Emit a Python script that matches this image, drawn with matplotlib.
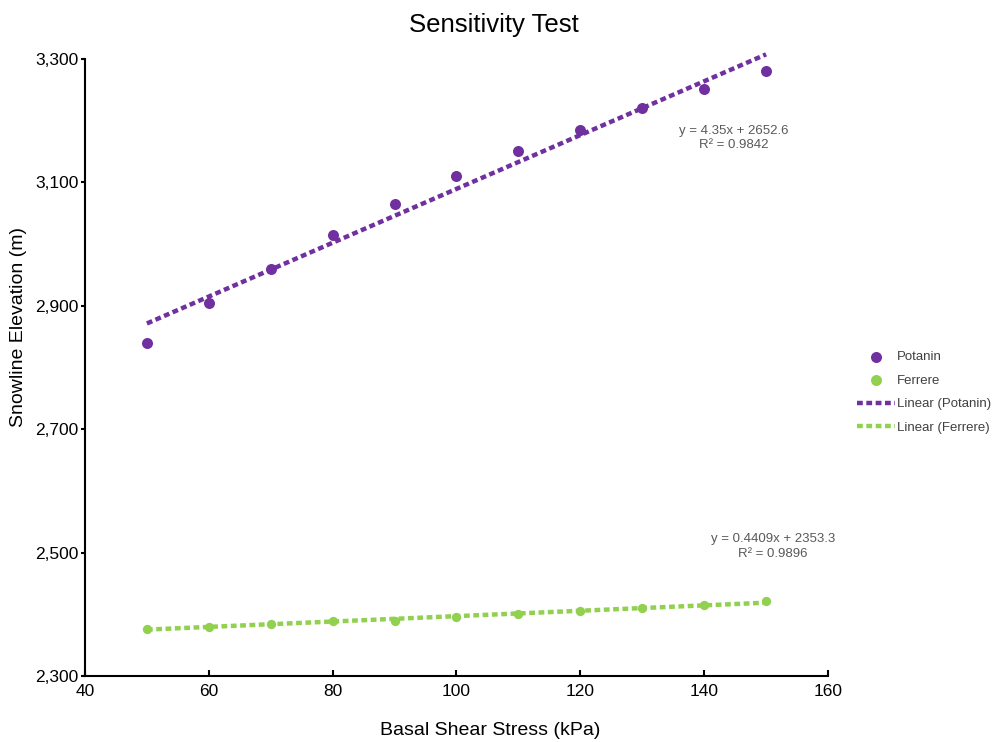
import numpy as np
import matplotlib.pyplot as plt

plt.rcParams['font.family'] = ['Liberation Sans', 'DejaVu Sans']

shear = [50, 60, 70, 80, 90, 100, 110, 120, 130, 140, 150]
potanin = [2840, 2905, 2960, 3015, 3065, 3111, 3151, 3185, 3221, 3251, 3281]
ferrere = [2376, 2380, 2385, 2390, 2390, 2396, 2400, 2405, 2410, 2415, 2421]
eq_potanin = "y = 4.35x + 2652.6\nR² = 0.9842"
eq_ferrere = "y = 0.4409x + 2353.3\nR² = 0.9896"

purple = '#7030A0'
green = '#92D050'

fig = plt.figure(figsize=(9.94, 7.42), dpi=100)
ax = fig.add_axes([0.0855, 0.0889, 0.7475, 0.8315])

x = np.array(shear)
ax.scatter(x, potanin, s=63, color=purple, zorder=3, label='Potanin', linewidths=0)
ax.scatter(x, ferrere, s=45, color=green, zorder=3, label='Ferrere', linewidths=0)

xs = np.array([50, 150])
for vals, col, name in [(potanin, purple, 'Linear (Potanin)'), (ferrere, green, 'Linear (Ferrere)')]:
    m, b = np.polyfit(x, vals, 1)
    ax.plot(xs, m * xs + b, color=col, lw=3.2, linestyle=(0, (1.3, 0.8)),
            dash_capstyle='butt', zorder=2, label=name, clip_on=False)

ax.text(144.7, 3172, eq_potanin, ha='center', va='center', fontsize=9.5,
        color='#595959', linespacing=1.3)
ax.text(151.1, 2510, eq_ferrere, ha='center', va='center', fontsize=9.5,
        color='#595959', linespacing=1.3)

ax.set_xlim(40, 160)
ax.set_ylim(2300, 3300)
ax.set_xticks(range(40, 161, 20))
ax.set_yticks(range(2300, 3301, 200))
ax.yaxis.set_major_formatter(plt.FuncFormatter(lambda v, p: f'{int(v):,}'))

for s in ['top', 'right']:
    ax.spines[s].set_visible(False)
for s in ['left', 'bottom']:
    ax.spines[s].set_linewidth(1.5)
ax.tick_params(axis='x', direction='in', length=4, width=1.5, labelsize=12.5, pad=6)
ax.tick_params(axis='y', direction='out', length=3, width=1.5, labelsize=12.5, pad=1.5)

fig.text(0.497, 0.966, 'Sensitivity Test', ha='center', va='center', fontsize=18.5)
fig.text(0.493, 0.016, 'Basal Shear Stress (kPa)', ha='center', va='center', fontsize=14)
fig.text(0.019, 0.559, 'Snowline Elevation (m)', ha='center', va='center',
         rotation=90, fontsize=14)

leg = ax.legend(loc='center left', bbox_to_anchor=(1.039, 0.4595), frameon=False, fontsize=9.5,
                handlelength=2.9, handletextpad=0.15, labelspacing=0.85, borderpad=0,
                borderaxespad=0, labelcolor='#404040')
for h in leg.legend_handles[:2]:
    h.set_sizes([63])

fig.savefig('out.png', dpi=100)
